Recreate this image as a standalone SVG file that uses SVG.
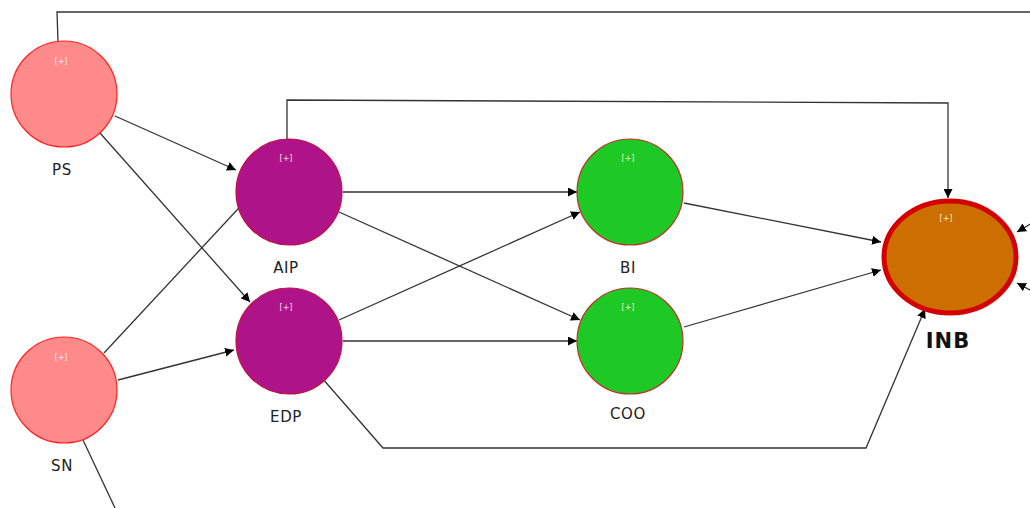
<svg xmlns="http://www.w3.org/2000/svg" width="1030" height="508" viewBox="0 0 1030 508">
<style>
.lbl{font-family:"DejaVu Sans","Open Sans",sans-serif;font-size:15px;fill:#222;text-anchor:middle;letter-spacing:0.6px}
.plus{font-family:"DejaVu Sans",sans-serif;font-size:8px;fill:#fff;text-anchor:middle;opacity:0.85}
.c{fill:none;stroke:#333;stroke-width:1.3}
.ca{fill:none;stroke:#333;stroke-width:1.3;marker-end:url(#ar)}
.pink{fill:#ff8a8a;stroke:#ff2020;stroke-width:1.2}
.purp{fill:#ae1389;stroke:#c0103a;stroke-width:1.2}
.green{fill:#1ec825;stroke:#c0302a;stroke-width:1.2}
</style>
<defs>
<marker id="ar" viewBox="0 0 10 10" refX="10" refY="5" markerWidth="9" markerHeight="9" markerUnits="userSpaceOnUse" orient="auto">
<path d="M0,0 L10,5 L0,10 z" fill="#000"/>
</marker>
</defs>
<rect width="1030" height="508" fill="#fff"/>
<g id="connectors">
<polyline class="c" points="58,42 57,12 1030,12"/>
<line class="ca" x1="115" y1="116" x2="236" y2="170"/>
<line class="ca" x1="100" y1="133" x2="250" y2="302"/>
<line class="ca" x1="104" y1="353" x2="250" y2="196"/>
<line class="ca" x1="118" y1="380" x2="234" y2="350"/>
<line class="c" x1="83" y1="440" x2="115" y2="508"/>
<line class="ca" x1="343" y1="192" x2="577" y2="192"/>
<line class="ca" x1="339" y1="212" x2="580" y2="320"/>
<line class="ca" x1="339" y1="320" x2="580" y2="212"/>
<line class="ca" x1="343" y1="341" x2="577" y2="341"/>
<polyline class="ca" points="287,140 287,100 948,103 948,198"/>
<line class="ca" x1="684" y1="203" x2="881" y2="242"/>
<line class="ca" x1="684" y1="327" x2="881" y2="270"/>
<polyline class="ca" points="322,378 383,448 866,448 925,309"/>
<line class="ca" x1="1032" y1="223" x2="1017" y2="232"/>
<line class="ca" x1="1032" y1="291" x2="1017" y2="283"/>
</g>
<g id="PS">
<circle class="pink" cx="64" cy="94" r="53"/>
<text class="plus" x="61" y="64">[+]</text>
<text class="lbl" x="62" y="175">PS</text>
</g>
<g id="SN">
<circle class="pink" cx="64" cy="390" r="53"/>
<text class="plus" x="61" y="360">[+]</text>
<text class="lbl" x="62" y="471">SN</text>
</g>
<g id="AIP">
<circle class="purp" cx="289" cy="192" r="53"/>
<text class="plus" x="286" y="161">[+]</text>
<text class="lbl" x="286" y="273">AIP</text>
</g>
<g id="EDP">
<circle class="purp" cx="289" cy="341" r="53"/>
<text class="plus" x="286" y="310">[+]</text>
<text class="lbl" x="286" y="422">EDP</text>
</g>
<g id="BI">
<circle class="green" cx="630" cy="192" r="53"/>
<text class="plus" x="628" y="161">[+]</text>
<text class="lbl" x="628" y="273">BI</text>
</g>
<g id="COO">
<circle class="green" cx="630" cy="341" r="53"/>
<text class="plus" x="628" y="310">[+]</text>
<text class="lbl" x="628" y="419">COO</text>
</g>
<g id="INB">
<ellipse cx="950" cy="257" rx="66" ry="56" fill="#cc6f00" stroke="#d40000" stroke-width="5"/>
<text class="plus" x="946" y="221">[+]</text>
<text x="948" y="348" font-family="'DejaVu Sans','Open Sans',sans-serif" font-size="21" font-weight="bold" fill="#111" text-anchor="middle" letter-spacing="1">INB</text>
</g>
</svg>
